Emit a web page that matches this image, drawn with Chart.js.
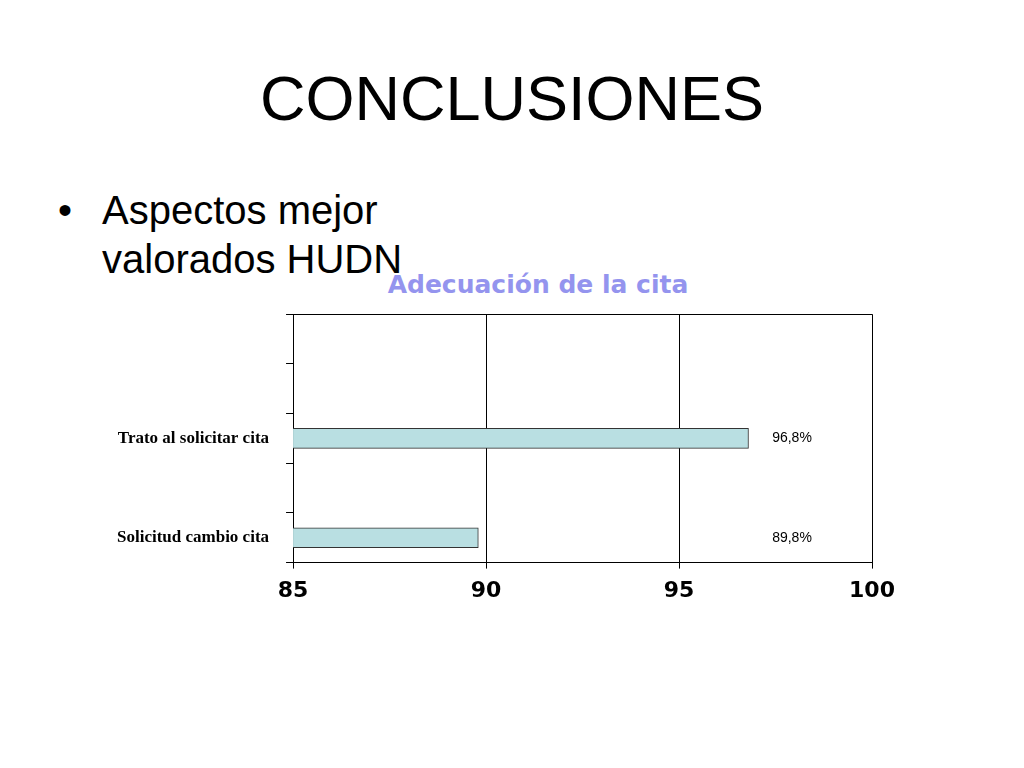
<!DOCTYPE html>
<html>
<head>
<meta charset="utf-8">
<script src="https://cdn.jsdelivr.net/npm/chart.js@4"></script>
<style>
  html, body { margin: 0; padding: 0; background: #fff; width: 1024px; height: 768px; overflow: hidden; }
  #heading { position: absolute; left: 0; top: 67px; width: 1024px; text-align: center;
    font-family: "Liberation Sans", Arial, sans-serif; font-size: 63px; line-height: 63px; color: #000; }
  #bullet { position: absolute; left: 102px; top: 186px; font-family: "Liberation Sans", Arial, sans-serif;
    font-size: 40px; line-height: 49px; color: #000; }
  #dot { position: absolute; left: 58px; top: 186px; font-family: "Liberation Sans", Arial, sans-serif;
    font-size: 40px; line-height: 49px; }
  #ctitle { position: absolute; left: 338px; width: 400px; top: 270px; text-align: center;
    font-family: "DejaVu Sans", sans-serif; font-weight: bold; font-size: 25px; line-height: 30px; color: #9494ee; }
  #wrap { position: absolute; left: 100px; top: 287px; width: 876px; height: 326px; }
</style>
</head>
<body>
<div id="heading">CONCLUSIONES</div>
<div id="dot">•</div>
<div id="bullet">Aspectos mejor<br>valorados HUDN</div>
<div id="ctitle"></div>
<div id="wrap"><canvas id="c"></canvas></div>
<script>
const categories = ['', '', 'Trato al solicitar cita', '', 'Solicitud cambio cita'];
const values = [null, null, 96.8, null, 89.8];
const xTicks = [85, 90, 95, 100];
const chartTitle = 'Adecuación de la cita';

document.getElementById('ctitle').textContent = chartTitle;

const valueLabels = {
  id: 'valueLabels',
  afterDatasetsDraw(chart) {
    const { ctx, chartArea } = chart;
    const meta = chart.getDatasetMeta(0);
    ctx.save();
    ctx.font = '14px "Liberation Sans", Arial, sans-serif';
    ctx.fillStyle = '#000';
    ctx.textAlign = 'center';
    ctx.textBaseline = 'middle';
    meta.data.forEach((bar, i) => {
      const v = values[i];
      if (v === null || v === undefined) return;
      ctx.fillText(v.toFixed(1).replace('.', ',') + '%', chartArea.right - 80, bar.y);
    });
    ctx.restore();
  }
};

new Chart(document.getElementById('c'), {
  type: 'bar',
  data: {
    labels: categories,
    datasets: [{
      data: values,
      backgroundColor: '#b9dfe2',
      borderColor: '#333',
      borderWidth: 1,
      barThickness: 20,
      borderSkipped: false
    }]
  },
  options: {
    indexAxis: 'y',
    responsive: true,
    maintainAspectRatio: false,
    animation: false,
    layout: { padding: { left: 0, right: 104, top: 10, bottom: 0 } },
    plugins: {
      legend: { display: false },
      tooltip: { enabled: false },
      title: { display: false }
    },
    scales: {
      x: {
        type: 'linear',
        min: 85,
        max: 100,
        afterBuildTicks(axis) { axis.ticks = xTicks.map(v => ({ value: v })); },
        grid: { color: '#000', lineWidth: 1, tickLength: 6, tickColor: '#000' },
        border: { color: '#000', width: 1 },
        ticks: {
          color: '#000',
          padding: 9,
          font: { family: '"DejaVu Sans", sans-serif', size: 22, weight: 'bold' }
        }
      },
      y: {
        grid: {
          offset: true,
          color: (c) => c.index === 0 ? '#000' : 'rgba(0,0,0,0)',
          tickColor: '#000',
          tickLength: 7,
          lineWidth: 1
        },
        border: { color: '#000', width: 1 },
        ticks: {
          color: '#000',
          padding: 17,
          font: { family: '"Liberation Serif", "Times New Roman", serif', size: 17, weight: 'bold' }
        }
      }
    }
  },
  plugins: [valueLabels]
});
</script>
</body>
</html>
